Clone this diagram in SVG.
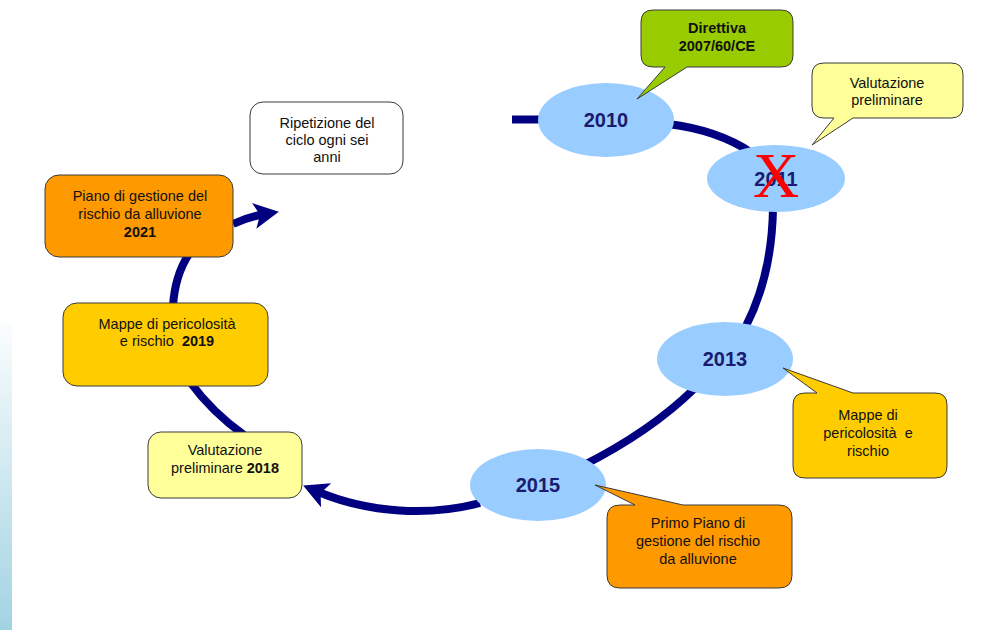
<svg xmlns="http://www.w3.org/2000/svg" width="984" height="630" viewBox="0 0 984 630">
<style>
.conn{fill:none;stroke:#000080;stroke-width:8}
.yr{fill:#99ccff}
.yt{font-family:"Liberation Sans",Arial,sans-serif;font-weight:bold;font-size:20px;fill:#1a1a70;text-anchor:middle}
.box{stroke:#3a3a3a;stroke-width:1}
.bt{font-family:"Liberation Sans",Arial,sans-serif;font-size:14.5px;fill:#111;text-anchor:middle;white-space:pre}
.b{font-weight:bold}
</style>
<defs>
<linearGradient id="side" x1="0" y1="0" x2="0" y2="1">
<stop offset="0" stop-color="#fbfdfe"/>
<stop offset="1" stop-color="#a2d3e2"/>
</linearGradient>
<marker id="ah" markerUnits="userSpaceOnUse" markerWidth="30" markerHeight="30" viewBox="-14 -15 30 30" refX="0" refY="0" orient="auto">
<path d="M14,0 L-11,-13 L-5,0 L-11,13 Z" fill="#000080"/>
</marker>
</defs>
<rect x="0" y="0" width="984" height="630" fill="#ffffff"/>
<rect x="0" y="322" width="12" height="308" fill="url(#side)"/>
<g id="connectors">
<path class="conn" d="M512,119.5 L545,119.5"/>
<path class="conn" d="M668,124 Q718,130 752,153"/>
<path class="conn" d="M773,208 Q772,275 746,326"/>
<path class="conn" d="M695,388 Q650,432 582,466"/>
<path class="conn" d="M480,503 C430,516 370,514 316,491" marker-end="url(#ah)"/>
<path class="conn" d="M244,435 Q212,412 190,382"/>
<path class="conn" d="M173,306 Q175,275 189,254"/>
<path class="conn" d="M233,224 Q247,217 265,214" marker-end="url(#ah)"/>
</g>
<g id="y2010"><ellipse class="yr" cx="606" cy="120" rx="68" ry="37"/><text class="yt" x="606" y="127">2010</text></g>
<g id="y2011"><ellipse class="yr" cx="776" cy="178.5" rx="69" ry="33.5"/><text class="yt" x="776" y="186">2011</text>
<text x="776" y="197" font-family="Liberation Serif,'Times New Roman',serif" font-size="64" fill="#ff0000" text-anchor="middle">X</text></g>
<g id="y2013"><ellipse class="yr" cx="725" cy="359" rx="68" ry="37"/><text class="yt" x="725" y="366">2013</text></g>
<g id="y2015"><ellipse class="yr" cx="538" cy="485" rx="68" ry="36"/><text class="yt" x="538" y="492">2015</text></g>
<g id="direttiva">
<path class="box" fill="#99cc00" d="M653,10 H781 Q793,10 793,22 V55 Q793,67 781,67 H687 L637,99 L665,67 H653 Q641,67 641,55 V22 Q641,10 653,10 Z"/>
<text class="bt b" x="717" y="33">Direttiva</text>
<text class="bt b" x="717" y="51">2007/60/CE</text>
</g>
<g id="valutazione2011">
<path class="box" fill="#ffff99" d="M824,63 H951 Q963,63 963,75 V106 Q963,118 951,118 H853 L812,145 L834,118 H824 Q812,118 812,106 V75 Q812,63 824,63 Z"/>
<text class="bt" x="887" y="88">Valutazione</text>
<text class="bt" x="887" y="105">preliminare</text>
</g>
<g id="mappe2013">
<path class="box" fill="#ffcc00" d="M805,393 H817 L783,368 L853,393 H935 Q947,393 947,405 V466 Q947,478 935,478 H805 Q793,478 793,466 V405 Q793,393 805,393 Z"/>
<text class="bt" x="868" y="420">Mappe di</text>
<text class="bt" x="868" y="438">pericolosità  e</text>
<text class="bt" x="868" y="456">rischio</text>
</g>
<g id="primo2015">
<path class="box" fill="#ff9900" d="M620,505 H635 L595,485 L683,505 H779 Q792,505 792,518 V575 Q792,588 779,588 H620 Q607,588 607,575 V518 Q607,505 620,505 Z"/>
<text class="bt" x="698" y="528">Primo Piano di</text>
<text class="bt" x="698" y="546">gestione del rischio</text>
<text class="bt" x="698" y="564">da alluvione</text>
</g>
<g id="ripetizione">
<rect class="box" x="250" y="102" width="153" height="72" rx="13" fill="#ffffff"/>
<text class="bt" x="327" y="128">Ripetizione del</text>
<text class="bt" x="327" y="145">ciclo ogni sei</text>
<text class="bt" x="327" y="162">anni</text>
</g>
<g id="piano2021">
<rect class="box" x="45" y="175" width="188" height="82" rx="14" fill="#ff9900"/>
<text class="bt" x="140" y="201">Piano di gestione del</text>
<text class="bt" x="140" y="219">rischio da alluvione</text>
<text class="bt b" x="140" y="237">2021</text>
</g>
<g id="mappe2019">
<rect class="box" x="63" y="303" width="205" height="83" rx="14" fill="#ffcc00"/>
<text class="bt" x="167" y="329">Mappe di pericolosità</text>
<text class="bt" x="167" y="346">e rischio  <tspan class="b">2019</tspan></text>
</g>
<g id="valutazione2018">
<rect class="box" x="148" y="432" width="154" height="66" rx="13" fill="#ffff99"/>
<text class="bt" x="225" y="455">Valutazione</text>
<text class="bt" x="225" y="473">preliminare <tspan class="b">2018</tspan></text>
</g>
</svg>
